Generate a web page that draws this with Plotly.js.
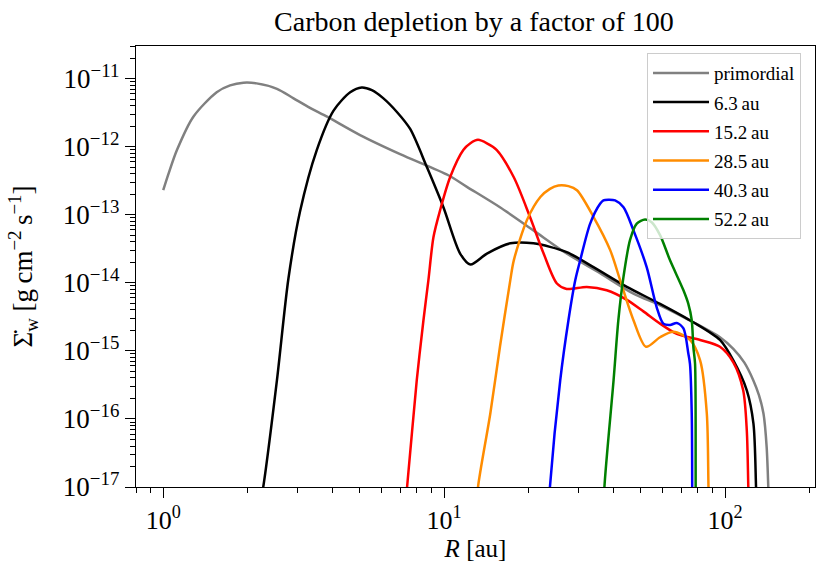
<!DOCTYPE html>
<html>
<head>
<meta charset="utf-8">
<script src="https://cdn.plot.ly/plotly-3.0.1.min.js"></script>
<style>
  html, body { margin: 0; padding: 0; background: #fff; }
  #chart { width: 830px; height: 579px; }
</style>
</head>
<body>
<div id="chart"></div>
<script>
// radius R [au] and log10 of the wind mass-loss rate
const greyR   = [1.0, 1.044, 1.119, 1.28, 1.55, 1.73, 1.93, 2.15, 2.54, 2.91, 3.33, 3.83, 5.02, 6.97, 10.35, 12.05, 15.8, 20.8, 27.3, 35.9, 47.2, 58.7, 77.1, 95.9, 107, 117, 126, 132, 137, 140.6, 143];
const greyLog = [-12.64, -12.40, -12.05, -11.56, -11.20, -11.10, -11.06, -11.07, -11.15, -11.29, -11.43, -11.56, -11.83, -12.11, -12.42, -12.59, -12.89, -13.23, -13.57, -13.86, -14.16, -14.33, -14.58, -14.80, -14.97, -15.17, -15.43, -15.65, -15.92, -16.41, -17.2];

const blackR   = [2.20, 2.27, 2.54, 2.79, 3.07, 3.52, 4.04, 4.63, 5.09, 5.53, 6.08, 6.79, 7.57, 8.68, 9.94, 11.4, 12.4, 14.2, 17.2, 20.8, 27.3, 34, 44.7, 58.7, 77.1, 95.9, 107, 119.5, 126.2, 128.9, 130];
const blackLog = [-17.3, -17, -15.43, -13.94, -12.95, -12.05, -11.47, -11.20, -11.13, -11.17, -11.29, -11.49, -11.74, -12.30, -12.89, -13.57, -13.73, -13.57, -13.42, -13.42, -13.55, -13.77, -14.06, -14.31, -14.58, -14.84, -15.14, -15.58, -16.07, -17, -17.5];

const redR   = [7.2, 7.38, 7.99, 8.44, 8.79, 9.16, 9.68, 10.5, 11.7, 12.4, 13.2, 14.2, 15.4, 17.7, 20.2, 22.6, 25.2, 27.3, 32.2, 37.9, 44.7, 51.2, 58.7, 67.3, 81.5, 95.9, 107, 116, 119.5, 121, 122];
const redLog = [-17.4, -17, -15.43, -14.55, -13.96, -13.33, -12.93, -12.45, -12.05, -11.95, -11.90, -11.95, -12.05, -12.45, -13.03, -13.57, -14.01, -14.09, -14.06, -14.11, -14.25, -14.42, -14.60, -14.75, -14.84, -14.94, -15.17, -15.58, -16.17, -17, -17.5];

const orangeR   = [13.0, 13.2, 14.6, 15.8, 17.2, 17.7, 19.7, 22, 23.8, 25.5, 27.7, 29.7, 34, 39, 42.3, 47.2, 52.3, 58.7, 65.5, 75, 81.5, 86.1, 87.3, 88];
const orangeLog = [-17.4, -17, -15.92, -14.94, -13.96, -13.67, -13.08, -12.74, -12.62, -12.57, -12.58, -12.64, -13.03, -13.52, -13.96, -14.55, -14.94, -14.80, -14.72, -14.84, -15.14, -15.92, -17, -17.5];

const blueR   = [23.5, 23.8, 25.9, 27.7, 29.3, 30.5, 33.1, 35.9, 36.9, 38.4, 40.6, 43.5, 47.2, 52.6, 57.1, 60.3, 63.7, 67.3, 71.1, 74, 75, 76.1, 76.4];
const blueLog = [-17.4, -17, -15.43, -14.55, -13.96, -13.67, -13.13, -12.84, -12.79, -12.78, -12.79, -12.89, -13.23, -13.77, -14.36, -14.60, -14.62, -14.59, -14.67, -15.04, -15.19, -15.92, -17.3];

const greenR   = [37.0, 37.2, 40.1, 41.7, 43.5, 45.9, 48.5, 51.9, 54.8, 58.7, 63.7, 71.1, 74, 76.1, 77.1, 78.2, 78.6, 78.8];
const greenLog = [-17.4, -17, -15.43, -14.55, -13.91, -13.37, -13.13, -13.07, -13.11, -13.30, -13.67, -14.11, -14.31, -14.55, -14.94, -15.19, -17, -17.3];

const labels = ['primordial', '6.3\u2009au', '15.2\u2009au', '28.5\u2009au', '40.3\u2009au', '52.2\u2009au'];
const colors = ['#808080', '#000000', '#ff0000', '#ff8c00', '#0000ff', '#008000'];

const xTickVals = [1, 10, 100];
const xTickText = ['10<sup>0</sup>', '10<sup>1</sup>', '10<sup>2</sup>'];
const yTickVals = [1e-17, 1e-16, 1e-15, 1e-14, 1e-13, 1e-12, 1e-11];
const yTickText = ['10<sup>\u221217</sup>', '10<sup>\u221216</sup>', '10<sup>\u221215</sup>', '10<sup>\u221214</sup>',
                   '10<sup>\u221213</sup>', '10<sup>\u221212</sup>', '10<sup>\u221211</sup>'];

const series = [
  [greyR, greyLog], [blackR, blackLog], [redR, redLog],
  [orangeR, orangeLog], [blueR, blueLog], [greenR, greenLog]
];

const traces = series.map((s, i) => ({
  x: s[0],
  y: s[1].map(v => Math.pow(10, v)),
  type: 'scatter',
  mode: 'lines',
  name: labels[i],
  legendgroup: 'g' + i,
  line: {color: colors[i], width: 2.5, shape: 'spline', smoothing: 0.8}
}));

// minor tick positions for the log axes
const xMinor = [];
[0.1, 1, 10, 100].forEach(d => {
  for (let k = 2; k <= 9; k++) xMinor.push(k * d);
});
const yMinor = [];
for (let e = -17; e <= -11; e++) {
  for (let k = 2; k <= 9; k++) yMinor.push(k * Math.pow(10, e));
}

const serif = 'Liberation Serif, Times New Roman, serif';

const layout = {
  width: 830,
  height: 579,
  margin: {l: 136, r: 15, t: 46, b: 92},
  paper_bgcolor: '#fff',
  plot_bgcolor: '#fff',
  font: {family: serif, size: 24, color: '#000'},
  title: {
    text: 'Carbon depletion by a factor of 100',
    x: 0.571, xanchor: 'center',
    y: 0.963, yanchor: 'middle', yref: 'container',
    font: {family: serif, size: 28, color: '#000'}
  },
  xaxis: {
    type: 'log',
    range: [Math.log10(0.8), Math.log10(209)],
    tickmode: 'array', tickvals: xTickVals, ticktext: xTickText,
    tickfont: {family: serif, size: 26},
    ticks: 'outside', ticklen: 10, tickwidth: 1, tickcolor: '#000',
    minor: {tickmode: 'array', tickvals: xMinor, ticks: 'outside', ticklen: 5, tickwidth: 1, tickcolor: '#000', showgrid: false},
    showline: true, linecolor: '#000', linewidth: 1.2, mirror: true,
    showgrid: false, zeroline: false,
    title: {text: '<i>R</i> [au]', font: {family: serif, size: 25}, standoff: 2}
  },
  yaxis: {
    type: 'log',
    range: [-17, -10.521],
    tickmode: 'array', tickvals: yTickVals, ticktext: yTickText,
    tickfont: {family: serif, size: 27},
    ticks: 'outside', ticklen: 10, tickwidth: 1, tickcolor: '#000',
    minor: {tickmode: 'array', tickvals: yMinor, ticks: 'outside', ticklen: 5, tickwidth: 1, tickcolor: '#000', showgrid: false},
    showline: true, linecolor: '#000', linewidth: 1.2, mirror: true,
    showgrid: false, zeroline: false,
    title: {text: '\u03a3\u0307<sub>w</sub> [g\u2009cm<sup>\u22122</sup>\u2009s<sup>\u22121</sup>]', font: {family: serif, size: 27}, standoff: 22}
  },
  legend: {
    x: 0.7526, xanchor: 'left',
    y: 0.984, yanchor: 'top',
    bgcolor: 'rgba(255,255,255,0.8)',
    bordercolor: '#cccccc', borderwidth: 1,
    font: {family: serif, size: 19, color: '#000'},
    tracegroupgap: 1.5,
    itemwidth: 56
  },
  showlegend: true
};

Plotly.newPlot('chart', traces, layout, {displayModeBar: false, staticPlot: true});
</script>
</body>
</html>
